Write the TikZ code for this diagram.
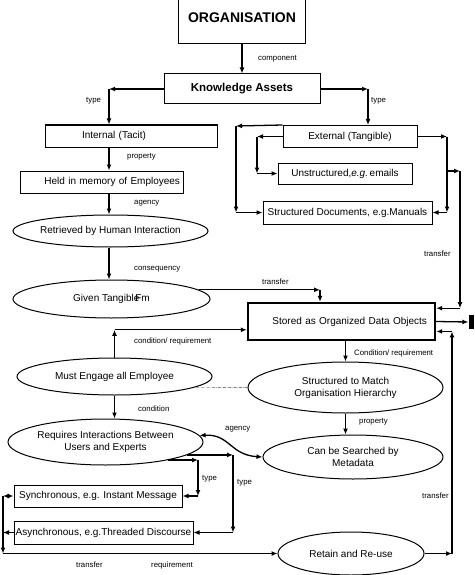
\documentclass[tikz,border=0pt]{standalone}
\usepackage{fontspec}
\setmainfont{Liberation Sans}
\usetikzlibrary{shapes.geometric,arrows.meta}

\tikzset{
  box/.style={draw,line width=1pt,inner sep=1pt,font=\fontsize{10}{11}\selectfont},
  oval/.style={draw,ellipse,line width=1pt,inner xsep=-12pt,inner ysep=0pt,align=center,font=\fontsize{10}{12}\selectfont},
  lbl/.style={anchor=west,inner sep=0pt,font=\fontsize{7.8}{8}\selectfont},
  arr/.style={-{Latex[length=6pt,width=5pt]},line width=1.3pt},
  darr/.style={{Latex[length=6pt,width=5pt]}-{Latex[length=6pt,width=5pt]},line width=1.3pt},
}

\begin{document}
\begin{tikzpicture}[x=1pt,y=-1pt]
\useasboundingbox (0,0) rectangle (474,575);

% boxes
\node[box,minimum width=127,minimum height=52,font=\fontsize{14}{16}\selectfont\bfseries] (org) at (242,18) {ORGANISATION};
\node[box,minimum width=156,minimum height=30,font=\fontsize{11.5}{13}\selectfont\bfseries] (ka) at (242,89) {Knowledge Assets};
\node[box,minimum height=22,text width=98,inner xsep=37,align=left] (int) at (131,136) {Internal (Tacit)};
\node[box,minimum height=22,text width=157,inner xsep=3,align=right] (held) at (101.5,182) {Held in memory of Employees};
\node[box,minimum width=134,minimum height=22] (ext) at (350,136.5) {External (Tangible)};
\node[box,minimum width=134,minimum height=21] (uns) at (345,173.5) {Unstructured,\textit{e.g.}\,emails};
\node[box,minimum width=169,minimum height=23] (sdoc) at (347.5,212.5) {Structured Documents, e.g.Manuals};
\node[box,line width=2.4pt,minimum height=37,text width=171,inner xsep=8,align=right] (sto) at (341.5,321.5) {Stored as Organized Data Objects};
\node[box,minimum width=168,minimum height=22] (sync) at (98,496) {Synchronous, e.g. Instant Message};
\node[box,minimum width=179,minimum height=23] (async) at (103.5,532.5) {Asynchronous, e.g.Threaded Discourse};
\node[fill,minimum width=5,minimum height=14,inner sep=0pt] (edge) at (471,322) {};

% ellipses
\node[oval,minimum width=195,minimum height=32] (ret) at (110.5,231) {Retrieved by Human Interaction};
\node[oval,minimum width=197,minimum height=38] (giv) at (111.5,299) {Given Tangible\kern-4pt Fm};
\node[oval,minimum width=195,minimum height=37] (must) at (114.5,376.5) {Must Engage all Employee};
\node[oval,minimum width=195,minimum height=51] (str) at (345.5,387.5) {Structured to Match\\Organisation Hierarchy};
\node[oval,minimum width=195,minimum height=46] (req) at (105.5,442) {Requires Interactions Between\\Users and Experts};
\node[oval,minimum width=180,minimum height=44] (can) at (353,457) {Can be Searched by\\Metadata};
\node[oval,minimum width=146,minimum height=43] (rtn) at (351,553.5) {Retain and Re-use};

% corners
\coordinate (kl) at (109,89);
\coordinate (kr) at (368,89);
\coordinate (gt) at (320,290);
\coordinate (el1) at (236,126);
\coordinate (el2) at (257,137);
\coordinate (er) at (447,136);
\coordinate (tr) at (460,171);
\coordinate (br) at (452,553);
\coordinate (ts) at (198,460);
\coordinate (ta) at (233,455);
\coordinate (lf) at (3,496);

% top part
\draw[arr] (org) -- (ka);
\draw[arr] (ka.west) -- (kl);
\draw[arr] (kl) -- (kl |- int.north);
\draw[arr] (ka.east) -- (kr);
\draw[arr] (kr) -- (kr |- ext.north);
\draw[arr] (int.south -| kl) -- (held.north -| kl);
\draw[arr] (held.south -| kl) -- (ret.north -| kl);
\draw[arr] (ret.south -| kl) -- (giv.north -| kl);
\draw[arr] (giv.6) -- (giv.6 -| gt);
\draw[arr] (giv.6 -| gt) -- (gt |- sto.north);

% external
\draw[arr] (ext.north west) -- (el1);
\draw[arr] (el1) -- (el1 |- sdoc.west);
\draw[arr] (el1 |- sdoc.west) -- (sdoc.west);
\draw[arr] (ext.west) -- (ext.west -| el2);
\draw[arr] (ext.west -| el2) -- (el2 |- uns.west);
\draw[arr] (el2 |- uns.west) -- (uns.west);
\draw[arr] (ext.east) -- (ext.east -| er);
\draw[arr] (ext.east -| er) -- (er |- sdoc.east);
\draw[arr] (er |- sdoc.east) -- (sdoc.east);
\draw[arr] (er |- tr) -- (tr);
\draw[arr] (tr) -- (tr |- sto.8);
\draw[arr] (tr |- sto.8) -- (sto.8);

% stored
\draw[arr] (sto.east) -- (edge.west);
\draw[arr] (rtn.east -| br) -- (br |- sto.-6);
\draw[arr] (rtn.east) -- (rtn.east -| br);
\draw[arr] (br |- sto.-6) -- (sto.-6);
\draw[arr] (sto.south -| str.north) -- (str.north);
\draw[arr] (must.north) -- (must.north |- sto.185);
\draw[arr] (must.north |- sto.185) -- (sto.185);
\draw[densely dash dot,gray,line width=0.7pt] (str.west) -- (must.-8);
\draw[arr] (str.south) -- (str.south |- can.north);
\draw[arr] (must.south) -- (must.south |- req.north);
\draw[darr] (req.4) .. controls (230,434) and (230,455) .. (can.west);

% types
\draw[arr] (req.-16.5) -- (req.-16.5 -| ts);
\draw[arr] (req.-16.5 -| ts) -- (ts |- sync.east);
\draw[arr] (ts |- sync.east) -- (sync.east);
\draw[arr] (req.-9) -- (req.-9 -| ta);
\draw[arr] (req.-9 -| ta) -- (ta |- async.east);
\draw[arr] (ta |- async.east) -- (async.east);

% left
\draw[darr] (lf) -- (sync.west);
\draw[arr] (async.west) -- (async.west -| lf);
\draw[arr] (lf) -- (lf |- rtn.west);
\draw[arr] (lf |- rtn.west) -- (rtn.west);

% labels
\node[lbl] (lcomp) at (258,59) {component};
\node[lbl] (ltypel) at (86,101) {type};
\node[lbl] (ltyper) at (371,101) {type};
\node[lbl] (lprop) at (127,157) {property};
\node[lbl] (lagen) at (134,203) {agency};
\node[lbl] (lcons) at (134,269) {consequency};
\node[lbl] (ltrgiv) at (262,282) {transfer};
\node[lbl] (ltrext) at (424,254) {transfer};
\node[lbl] (lcondm) at (134,341) {condition/ requirement};
\node[lbl] (lconds) at (354,353) {Condition/ requirement};
\node[lbl] (lcond) at (138,409) {condition};
\node[lbl] (lprops) at (359,422) {property};
\node[lbl] (lagenc) at (225,429) {agency};
\node[lbl] (ltypes) at (202,479) {type};
\node[lbl] (ltypea) at (237,483) {type};
\node[lbl] (ltrrtn) at (422,496) {transfer};
\node[lbl] (ltrlf) at (76,565) {transfer};
\node[lbl] (lreq) at (151,565) {requirement};
\end{tikzpicture}
\end{document}
